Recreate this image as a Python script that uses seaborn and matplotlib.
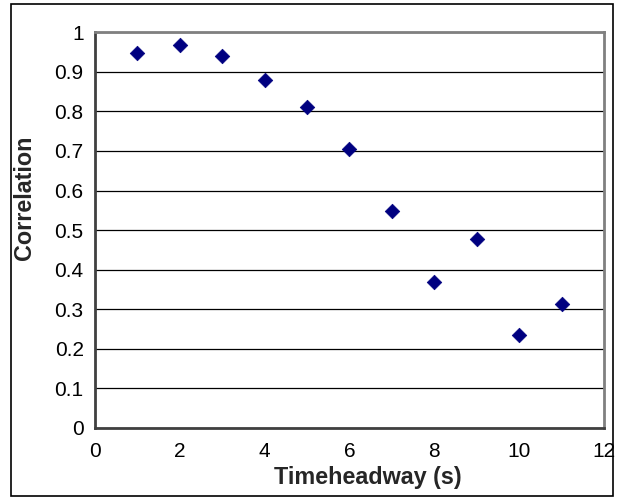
import pandas as pd
import seaborn as sns
import matplotlib.pyplot as plt
from matplotlib.patches import Rectangle

# data
timeheadway = [1, 2, 3, 4, 5, 6, 7, 8, 9, 10, 11]
correlation = [0.947, 0.967, 0.939, 0.879, 0.812, 0.705, 0.549, 0.368, 0.478, 0.236, 0.314]

df = pd.DataFrame({"Timeheadway (s)": timeheadway, "Correlation": correlation})

sns.set_style("white")
plt.rcParams['font.family'] = ['Liberation Sans', 'DejaVu Sans']

fig = plt.figure(figsize=(6.24, 4.97), dpi=100)
ax = fig.add_axes([0.152, 0.139, 0.816, 0.796])

sns.scatterplot(data=df, x="Timeheadway (s)", y="Correlation", marker="D",
                s=55, color="#000080", edgecolor="#000080", linewidth=0.5, ax=ax, zorder=3)

ax.set_xlim(0, 12)
ax.set_ylim(0, 1)
ax.set_xticks(range(0, 13, 2))
ax.set_yticks([i / 10 for i in range(11)])
ax.set_yticklabels(["0", "0.1", "0.2", "0.3", "0.4", "0.5", "0.6", "0.7", "0.8", "0.9", "1"])

# black horizontal gridlines like Excel
ax.yaxis.grid(True, color="black", linewidth=0.9)
ax.xaxis.grid(False)
ax.set_axisbelow(True)

for side in ["top", "right"]:
    ax.spines[side].set_color("#808080")
    ax.spines[side].set_linewidth(2)
for side in ["left", "bottom"]:
    ax.spines[side].set_color("#404040")
    ax.spines[side].set_linewidth(2)

ax.tick_params(axis="both", direction="out", length=5, width=1, color="#404040",
               labelsize=15, labelcolor="black", pad=3)
ax.tick_params(axis="x", pad=5)

ax.set_xlabel("Timeheadway (s)", fontsize=16.8, fontweight="bold", va="center")
ax.set_ylabel("Correlation", fontsize=16.8, fontweight="bold", va="center")
ax.xaxis.set_label_coords(0.536, -0.126)
ax.yaxis.set_label_coords(-0.138, 0.583)

# outer chart border
fig.patches.append(Rectangle((11 / 624, 1 / 497), 602 / 624, 492 / 497, transform=fig.transFigure,
                             fill=False, edgecolor="black", linewidth=1.2))

fig.savefig("out.png", dpi=100)
